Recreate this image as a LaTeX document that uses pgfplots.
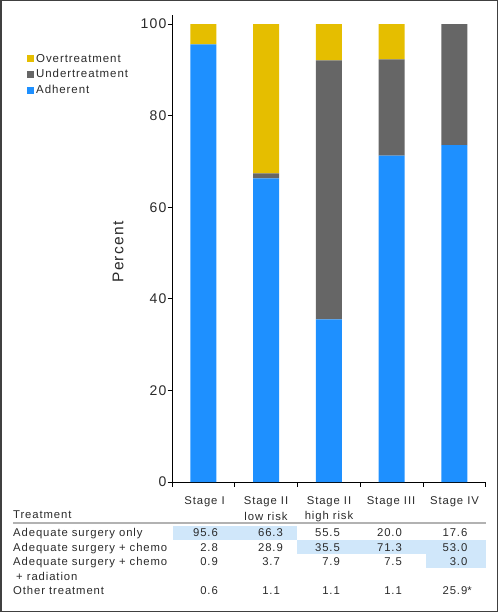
\documentclass[border=0pt]{standalone}
\usepackage{fontspec}
\setmainfont{Liberation Sans}
\newfontfamily\spfont[LetterSpace=8]{Liberation Sans}
\usepackage{pgfplots}
\pgfplotsset{compat=1.18}
\definecolor{over}{HTML}{E5BE00}
\definecolor{under}{HTML}{666666}
\definecolor{adh}{HTML}{1E90FF}
\definecolor{hl}{HTML}{D0E7FA}
\definecolor{txt}{HTML}{2A2A2A}
\begin{document}
\begin{tikzpicture}[x=1pt,y=1pt]
\draw[color=black!75, line width=1.5pt] (0.75pt,-0.75pt) rectangle (497.25pt,-611.25pt);
\begin{axis}[
  at={(172pt,-482pt)}, anchor=south west,
  scale only axis, width=313.7pt, height=467pt,
  xmin=-0.5, xmax=4.5, ymin=0, ymax=102,
  axis lines*=left,
  axis line style={line width=0.9pt, -, black},
  xtick={-0.5,0.5,...,4.5}, xticklabels={},
  ytick={0,20,...,100},
  tick align=outside, major tick length=4.5pt,
  tick style={black, line width=0.8pt},
  /pgf/number format/assume math mode=true,
  yticklabel style={font=\fontsize{14}{16}\selectfont\spfont, color=txt, inner sep=1pt},
  ylabel={Percent},
  ylabel style={at={(axis description cs:-0.172,0.4925)}, anchor=center, font=\fontsize{15.5}{18}\selectfont\spfont, color=txt},
  ybar stacked, bar width=26pt,
  reverse legend,
  legend cell align=left,
  legend style={draw=none, fill=none, at={(axis description cs:-0.4622,0.921)}, anchor=north west,
    font=\fontsize{11.5}{13.5}\selectfont\spfont, text=txt, inner sep=0pt, row sep=2pt},
  legend image code/.code={\fill[#1] (0pt,-3.5pt) rectangle (7pt,3.5pt);},
]
\addplot+[fill=adh, draw=none] coordinates {(0,95.6) (1,66.3) (2,35.5) (3,71.3) (4,73.6)};
\addplot+[fill=under, draw=none] coordinates {(0,0) (1,1.1) (2,56.6) (3,21.0) (4,26.4)};
\addplot+[fill=over, draw=none] coordinates {(0,4.4) (1,32.6) (2,7.9) (3,7.7) (4,0)};
\legend{Adherent, Undertreatment, Overtreatment}
\end{axis}
% highlights
\fill[hl] (173pt,-526pt) rectangle (297pt,-540pt);
\fill[hl] (297pt,-540pt) rectangle (486pt,-554pt);
\fill[hl] (426pt,-554pt) rectangle (486pt,-568pt);
\draw[color=black!30, line width=2pt] (13pt,-523pt) -- (486pt,-523pt);
\begin{scope}[yshift=-1.5pt, every node/.style={font=\fontsize{11.3}{13}\selectfont\spfont, text=txt, inner sep=0pt}]
\node[anchor=center] at (204.5pt,-500.7pt) {Stage I};
\node[anchor=center] at (266pt,-500.7pt) {Stage II};
\node[anchor=center] at (266pt,-515pt) {low risk};
\node[anchor=center] at (329pt,-500.7pt) {Stage II};
\node[anchor=center] at (329pt,-515pt) {high risk};
\node[anchor=center] at (391pt,-500.7pt) {Stage III};
\node[anchor=center] at (454.5pt,-500.7pt) {Stage IV};
\node[anchor=mid west] at (13pt,-514pt) {Treatment};
\node[anchor=mid west] at (13pt,-532.7pt) {Adequate surgery only};
\node[anchor=mid west] at (13pt,-547.7pt) {Adequate surgery + chemo};
\node[anchor=mid west] at (13pt,-561.7pt) {Adequate surgery + chemo};
\node[anchor=mid west] at (16pt,-576pt) {+ radiation};
\node[anchor=mid west] at (13pt,-590pt) {Other treatment};
\node[anchor=mid east] at (218pt,-532.7pt) {95.6};
\node[anchor=mid east] at (283pt,-532.7pt) {66.3};
\node[anchor=mid east] at (340pt,-532.7pt) {55.5};
\node[anchor=mid east] at (402pt,-532.7pt) {20.0};
\node[anchor=mid east] at (467.5pt,-532.7pt) {17.6};
\node[anchor=mid east] at (218pt,-547.7pt) {2.8};
\node[anchor=mid east] at (283pt,-547.7pt) {28.9};
\node[anchor=mid east] at (340pt,-547.7pt) {35.5};
\node[anchor=mid east] at (402pt,-547.7pt) {71.3};
\node[anchor=mid east] at (467.5pt,-547.7pt) {53.0};
\node[anchor=mid east] at (218pt,-561.7pt) {0.9};
\node[anchor=mid east] at (280pt,-561.7pt) {3.7};
\node[anchor=mid east] at (340pt,-561.7pt) {7.9};
\node[anchor=mid east] at (402pt,-561.7pt) {7.5};
\node[anchor=mid east] at (467.5pt,-561.7pt) {3.0};
\node[anchor=mid east] at (218pt,-590pt) {0.6};
\node[anchor=mid east] at (280pt,-590pt) {1.1};
\node[anchor=mid east] at (340pt,-590pt) {1.1};
\node[anchor=mid east] at (402pt,-590pt) {1.1};
\node[anchor=mid east] at (467.5pt,-590pt) {25.9\rlap{*}};
\end{scope}
\end{tikzpicture}
\end{document}
